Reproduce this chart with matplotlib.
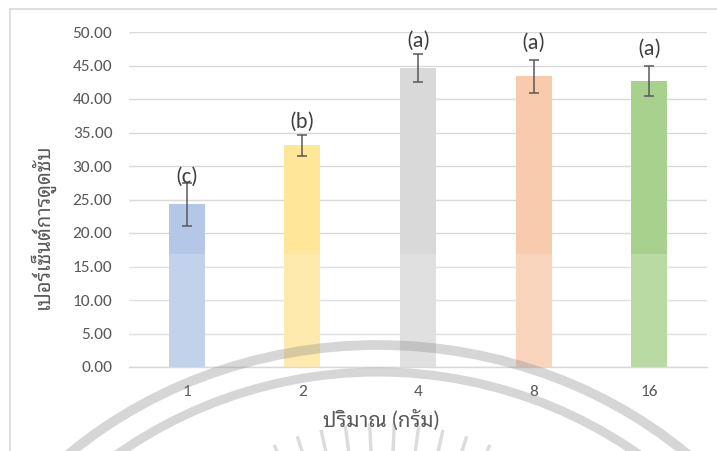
import numpy as np
import matplotlib
matplotlib.use("Agg")
import matplotlib.pyplot as plt
from matplotlib.patches import Ellipse
from matplotlib.lines import Line2D

# --------------------------------------------------------------
# Data
# --------------------------------------------------------------
doses = ["1", "2", "4", "8", "16"]
absorption = [24.3, 33.1, 44.6, 43.4, 42.7]
sd = [3.2, 1.55, 2.05, 2.45, 2.25]
groups = ["(c)", "(b)", "(a)", "(a)", "(a)"]
yticks = [0, 5, 10, 15, 20, 25, 30, 35, 40, 45, 50]

bar_colors = ["#B4C7E7", "#FFE699", "#D9D9D9", "#F8CBAD", "#A9D18E"]
label_pad = [0.9, 1.9, 2.1, 2.5, 2.6]

W, H = 717, 451
num_font = ["Carlito", "Lato", "DejaVu Sans"]
thai_font = ["Lato", "Noto Sans Thai Looped", "DejaVu Sans"]


def fx(px):
    return px / W


def fy(py):
    return 1 - py / H


fig = plt.figure(figsize=(W / 100, H / 100), dpi=100)
fig.patch.set_facecolor("white")

# chart frame (only top and left edges fall inside the picture)
fig.add_artist(Line2D([fx(10), fx(10)], [fy(9), 0], color="#d9d9d9", lw=1.2))
fig.add_artist(Line2D([fx(10), 1], [fy(9), fy(9)], color="#d9d9d9", lw=1.2))

ax = fig.add_axes([fx(129), fy(367), fx(707) - fx(129), fy(32) - fy(367)])
x = np.arange(len(doses))
ax.bar(x, absorption, width=0.31, color=bar_colors, zorder=2)
ax.errorbar(x, absorption, yerr=sd, fmt="none", ecolor="#595959",
            elinewidth=1.1, capsize=3.3, capthick=1.1, zorder=3)
for xi, m, e, g, p in zip(x, absorption, sd, groups, label_pad):
    ax.text(xi, m + e + p, g, ha="center", va="center", fontsize=16,
            color="#404040", family=num_font, zorder=4)

# lighter wash across the lower part of the bars
ax.axhspan(0, 16.8, color="white", alpha=0.2, lw=0, zorder=2.5)

ax.set_xlim(-0.5, len(doses) - 0.5)
ax.set_ylim(0, 50)
ax.set_yticks(yticks)
ax.set_yticklabels([f"{v:.2f}" for v in yticks])
ax.set_xticks(x)
ax.set_xticklabels(doses)
for lab in ax.get_xticklabels() + ax.get_yticklabels():
    lab.set_family(num_font)
    lab.set_fontsize(12.5)
    lab.set_color("#595959")
ax.tick_params(axis="both", length=0)
ax.tick_params(axis="y", pad=12)
ax.tick_params(axis="x", pad=13)
ax.grid(axis="y", color="#d9d9d9", lw=1.0, zorder=0)
ax.set_axisbelow(True)
for s in ["top", "right", "left"]:
    ax.spines[s].set_visible(False)
ax.spines["bottom"].set_color("#d9d9d9")
ax.spines["bottom"].set_linewidth(1.0)

fig.text(fx(381), fy(420), "ปริมาณ (กรัม)", ha="center", va="center",
         fontsize=15, color="#595959", family=thai_font)
fig.text(fx(42), fy(226), "เปอร์เซ็นต์การดูดซับ", ha="center", va="center",
         rotation=90, fontsize=14.5, color="#595959", family=thai_font,
         weight="bold")

# faint seal in the background of the page
wm = fig.add_axes([0, 0, 1, 1], zorder=10)
wm.set_xlim(0, W)
wm.set_ylim(H, 0)
wm.axis("off")
wm.patch.set_alpha(0)
wm_col = "#8c8c8c"
wm.add_patch(Ellipse((378, 765), 920, 840, fill=False, ec=wm_col, lw=7.0, alpha=0.35))
wm.add_patch(Ellipse((378, 826), 908, 908, fill=False, ec=wm_col, lw=6.5, alpha=0.35))
for ang in np.linspace(-28, 28, 12):
    t = np.deg2rad(ang)
    r0, r1 = 245, 277
    wm.plot([382 + r0 * np.sin(t), 382 + r1 * np.sin(t)],
            [700 - r0 * np.cos(t), 700 - r1 * np.cos(t)],
            color=wm_col, lw=2.5, alpha=0.3, solid_capstyle="butt")

fig.savefig("out.png", dpi=100)
